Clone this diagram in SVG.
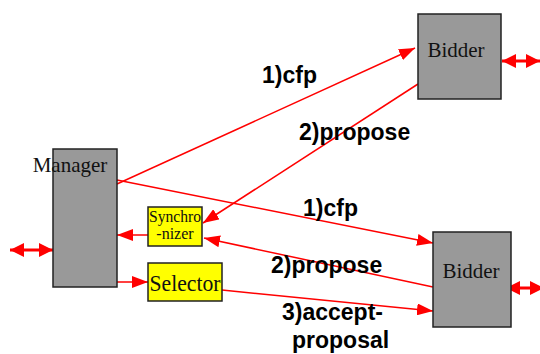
<svg xmlns="http://www.w3.org/2000/svg" width="540" height="354" viewBox="0 0 540 354">
<style>
.box{fill:#999999;stroke:#222222;stroke-width:1.5}
.ybox{fill:#ffff00;stroke:#222222;stroke-width:1.5}
.nl{font-family:"Liberation Serif","Times New Roman",serif;fill:#111111}
.el{font-family:"Liberation Sans",Arial,sans-serif;font-weight:bold;font-size:23px;fill:#000000}
.ln{stroke:#ff0000;stroke-width:1.5;fill:none;marker-end:url(#ah)}
.dbl{stroke:#ff0000;stroke-width:3;fill:none;marker-end:url(#dh);marker-start:url(#dh)}
</style>
<defs>
<marker id="ah" markerUnits="userSpaceOnUse" markerWidth="16" markerHeight="12" refX="16" refY="6" orient="auto"><path d="M0,0 L16,6 L0,12 z" fill="#ff0000"/></marker>
<marker id="dh" markerUnits="userSpaceOnUse" markerWidth="14" markerHeight="14" refX="14" refY="7" orient="auto-start-reverse"><path d="M0,0 L14,7 L0,14 z" fill="#ff0000"/></marker>
</defs>
<g id="connectors">
<line class="ln" x1="117" y1="184" x2="415" y2="48"/>
<line class="ln" x1="418" y1="84" x2="203" y2="223"/>
<line class="ln" x1="117" y1="180" x2="433" y2="243"/>
<line class="ln" x1="433" y1="287" x2="204" y2="238"/>
<line class="ln" x1="222" y1="290" x2="433" y2="311"/>
<line class="ln" x1="148" y1="235" x2="117" y2="235"/>
<line class="ln" x1="117" y1="282" x2="148" y2="282"/>
<line class="dbl" x1="10" y1="250" x2="53" y2="250"/>
<line class="dbl" x1="502" y1="61" x2="540" y2="61"/>
<line class="dbl" x1="506" y1="288" x2="544" y2="288"/>
<text class="el" x="262" y="83">1)cfp</text>
<text class="el" x="299" y="140">2)propose</text>
<text class="el" x="303" y="216">1)cfp</text>
<text class="el" x="271" y="273">2)propose</text>
<text class="el" x="282" y="320">3)accept-</text>
<text class="el" x="292" y="348">proposal</text>
</g>
<g id="manager">
<rect class="box" x="53" y="149" width="64" height="138"/>
<text class="nl" x="70" y="172" font-size="21" text-anchor="middle">Manager</text>
</g>
<g id="bidder1">
<rect class="box" x="418" y="14" width="83" height="85"/>
<text class="nl" x="456" y="57" font-size="21" text-anchor="middle">Bidder</text>
</g>
<g id="bidder2">
<rect class="box" x="433" y="232" width="78" height="95"/>
<text class="nl" x="471" y="278" font-size="21" text-anchor="middle">Bidder</text>
</g>
<g id="synchronizer">
<rect class="ybox" x="148" y="207" width="54" height="39"/>
<text class="nl" x="175" y="222" font-size="16" text-anchor="middle" textLength="52" lengthAdjust="spacingAndGlyphs">Synchro</text>
<text class="nl" x="175" y="239" font-size="16" text-anchor="middle">-nizer</text>
</g>
<g id="selector">
<rect class="ybox" x="148" y="263" width="74" height="38"/>
<text class="nl" x="185" y="291" font-size="23" text-anchor="middle" textLength="71" lengthAdjust="spacingAndGlyphs">Selector</text>
</g>
</svg>
